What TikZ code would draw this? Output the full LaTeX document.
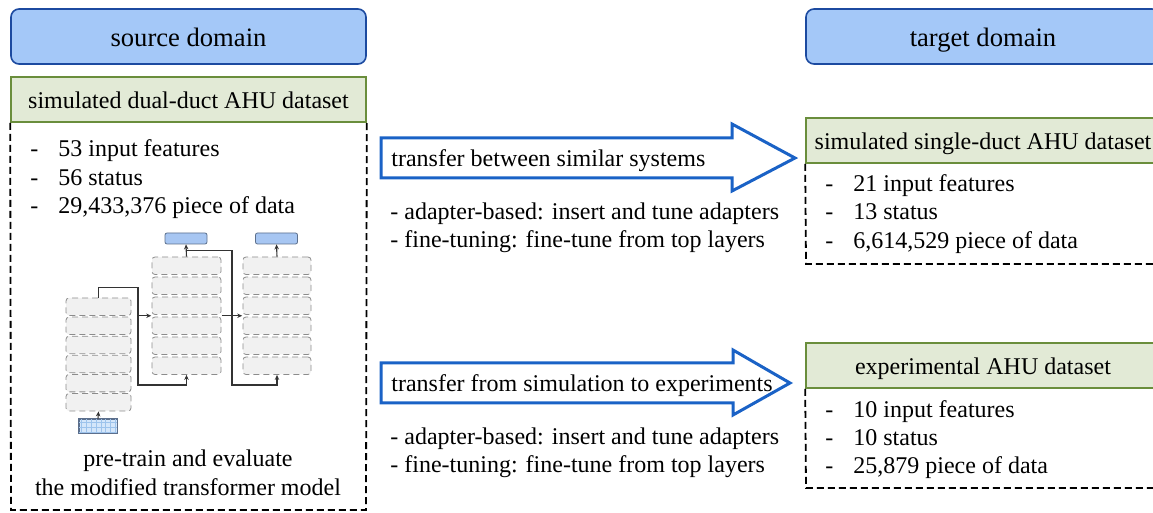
\documentclass[tikz,border=0pt]{standalone}
\usepackage{fontspec}
\setmainfont{Liberation Serif}
\usetikzlibrary{arrows.meta,fit,calc}

\definecolor{domainfill}{HTML}{A4C8F8}
\definecolor{domainline}{HTML}{1C4AA0}
\definecolor{datafill}{HTML}{E2EAD6}
\definecolor{dataline}{HTML}{6A8E3C}
\definecolor{arrowblue}{HTML}{1A62C6}
\definecolor{layerfill}{HTML}{F1F1F1}
\definecolor{layerline}{HTML}{8C8C8C}
\definecolor{headfill}{HTML}{A7C6F2}
\definecolor{headline}{HTML}{5C6F8C}
\definecolor{gridfill}{HTML}{D4E6FA}
\definecolor{gridline}{HTML}{9DC3EC}
\definecolor{linkcol}{HTML}{333333}

\newcommand{\dashitem}[1]{\makebox[14pt][l]{-}#1}

\begin{document}
\begin{tikzpicture}[x=0.5pt, y=-0.5pt,
	domainbox/.style={draw=domainline, fill=domainfill, line width=0.8pt, rounded corners=4pt, minimum height=27.5pt, inner sep=0pt, text height=10.5pt, text depth=0pt, font=\fontsize{13.3}{16}\selectfont},
	databox/.style={draw=dataline, fill=datafill, line width=0.8pt, minimum height=22.5pt, inner sep=0pt, text height=8.8pt, text depth=0pt, font=\fontsize{12}{14}\selectfont},
	textline/.style={anchor=base west, inner sep=0pt, font=\fontsize{12}{14}\selectfont},
	outline/.style={dash pattern=on 3.5pt off 2pt, line width=0.9pt},
	layer/.style={draw=layerline, fill=layerfill, densely dashed, rounded corners=1.5pt, line width=0.4pt, minimum height=8.75pt, inner sep=0pt},
	headbox/.style={draw=headline, fill=headfill, rounded corners=1pt, line width=0.4pt, minimum width=21pt, minimum height=5.5pt, inner sep=0pt},
	link/.style={draw=linkcol, line width=0.55pt},
	linkarrow/.style={link, -{Stealth[length=2.5pt,width=2.2pt]}},
	bigarrow/.style={draw=arrowblue, line width=1.5pt, miter limit=4}]

	\useasboundingbox (0,0) rectangle (1153,513);
	\clip (0,0) rectangle (1153,513);

	% source side
	\node[domainbox, minimum width=177.5pt] at (188.5, 36.5) (srcdomain) {source domain};
	\node[databox, minimum width=177.5pt] at (188.5, 99.5) (srcdata) {simulated dual-duct AHU dataset};
	\draw[outline] (srcdata.south west) -- (11, 510) -- (366, 510) -- (srcdata.south east);

	\node[textline] at (30, 157) (src1) {\dashitem{53 input features}};
	\node[textline] at (30, 185.5) (src2) {\dashitem{56 status}};
	\node[textline] at (30, 214) (src3) {\dashitem{29,433,376 piece of data}};

	% transformer sketch
	\foreach \i in {1,...,6} {
		\node[layer, minimum width=32.5pt] at (98.5, {306.75+19.1*(\i-1)}) (l\i) {};
		\node[layer, minimum width=34.5pt] at (186.5, {265.75+20*(\i-1)}) (m\i) {};
		\node[layer, minimum width=34pt] at (277, {265.75+20*(\i-1)}) (r\i) {};
	}
	\node[fit=(m1)(m6), inner sep=0pt] (midstack) {};
	\node[fit=(r1)(r6), inner sep=0pt] (rightstack) {};
	\node[headbox] at (186, 238.5) (mhead) {};
	\node[headbox] at (276.5, 238.5) (rhead) {};
	\node[draw=headline, fill=gridfill, line width=0.4pt, minimum width=19pt, minimum height=7pt, inner sep=0pt] at (98, 426) (inp) {};
	\draw[gridline, line width=0.2pt, step=2.4pt] ([shift={(0.3pt,0.3pt)}]inp.south west) grid ([shift={(-0.3pt,-0.3pt)}]inp.north east);
	\draw[headline, line width=0.4pt] (inp.south west) rectangle (inp.north east);

	\coordinate (lbottom) at (138, 385);
	\coordinate (lsplit) at (lbottom |- midstack.west);
	\coordinate (mtap) at ($(m1.north)!.5!(mhead.south)$);
	\coordinate (rbottom) at (232, 385);

	\draw[linkarrow] (inp.north) -- (l6.south);
	\draw[linkarrow] (l1.north) -- ++(0,-10) -| (lbottom) -| (m6.south);
	\draw[linkarrow] (lsplit) -- (midstack.west);
	\draw[linkarrow] (m1.north) -- (mhead.south);
	\draw[linkarrow] (mtap) -| (rbottom) -| (r6.south);
	\draw[linkarrow] (midstack.east) -- (rightstack.west);
	\draw[linkarrow] (r1.north) -- (rhead.south);

	\node[textline, anchor=base] at (188, 467) (pre1) {pre-train and evaluate};
	\node[textline, anchor=base] at (188, 495) (pre2) {the modified transformer model};

	% transfer arrows
	\draw[bigarrow] (381,138) -- (732,138) -- (732,124) -- (795,158) -- (732,191) -- (732,178) -- (381,178) -- cycle;
	\node[textline] at (391, 167) (simlabel) {transfer between similar systems};
	\node[textline] at (390, 220) (sim1) {- adapter-based: insert and tune adapters};
	\node[textline] at (390, 247.5) (sim2) {- fine-tuning: fine-tune from top layers};

	\draw[bigarrow] (381,363) -- (733,363) -- (733,350) -- (790,383) -- (733,415) -- (733,403) -- (381,403) -- cycle;
	\node[textline] at (391, 392) (explabel) {transfer from simulation to experiments};
	\node[textline] at (390, 445) (exp1) {- adapter-based: insert and tune adapters};
	\node[textline] at (390, 473) (exp2) {- fine-tuning: fine-tune from top layers};

	% target side
	\node[domainbox, minimum width=177pt] at (983, 36.5) (tgtdomain) {target domain};

	\node[databox, minimum width=177pt] at (983, 140.5) (singledata) {simulated single-duct AHU dataset};
	\draw[outline] (singledata.south west) -- (806, 264) -- (1160, 264) -- (singledata.south east);
	\node[textline] at (825, 191.5) (sng1) {\dashitem{21 input features}};
	\node[textline] at (825, 220) (sng2) {\dashitem{13 status}};
	\node[textline] at (825, 248.5) (sng3) {\dashitem{6,614,529 piece of data}};

	\node[databox, minimum width=177pt] at (983, 365.5) (expdata) {experimental AHU dataset};
	\draw[outline] (expdata.south west) -- (806, 488) -- (1160, 488) -- (expdata.south east);
	\node[textline] at (825, 418) (exd1) {\dashitem{10 input features}};
	\node[textline] at (825, 446) (exd2) {\dashitem{10 status}};
	\node[textline] at (825, 474) (exd3) {\dashitem{25,879 piece of data}};
\end{tikzpicture}
\end{document}
